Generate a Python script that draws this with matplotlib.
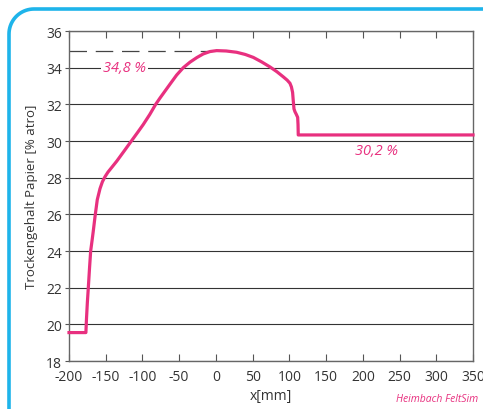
import numpy as np
import matplotlib.pyplot as plt
from matplotlib.path import Path
from matplotlib.patches import PathPatch

# curve data: position x [mm] vs dry content [% atro]
x_mm = [-200, -177, -176.2, -175, -173.7, -172, -170.5, -168.5, -166.9, -164.5, -161.5,
        -157.8, -154.5, -151, -147, -142, -135, -125, -114.7, -106, -98.9, -90, -82,
        -76, -67, -62.5, -53.4, -44.4, -35.3, -26, -17.2, -8, 1, 14, 28.2, 40, 50.9,
        62, 73.6, 83, 91.7, 97, 100.8, 102.8, 104.4, 105.3, 106.3, 107.6, 109.5, 111.3,
        111.8, 112.1, 150, 200, 250, 300, 350]
dry = [19.55, 19.55, 20.3, 21.2, 22.0, 23.1, 24.0, 24.6, 25.1, 25.9, 26.8,
       27.4, 27.78, 28.05, 28.3, 28.55, 28.9, 29.45, 30.02, 30.5, 30.9, 31.45, 32.0,
       32.35, 32.85, 33.1, 33.6, 34.0, 34.3, 34.55, 34.75, 34.88, 34.93, 34.91, 34.84, 34.72, 34.56,
       34.32, 34.04, 33.78, 33.5, 33.32, 33.15, 32.95, 32.65, 32.2, 31.75, 31.6, 31.45, 31.29,
       30.9, 30.33, 30.33, 30.33, 30.33, 30.33, 30.33]

peak_val = 34.93
peak_label = "34,8 %"
end_label = "30,2 %"

pink = "#e8307f"
blue = "#1eb4ea"

plt.rcParams['font.family'] = ['Open Sans', 'DejaVu Sans']
plt.rcParams['axes.unicode_minus'] = False

fig = plt.figure(figsize=(4.83, 4.10), dpi=100)
ax = fig.add_axes([69/483, 48/410, 404/483, 330/410])

# rounded blue frame (top-left corner only visible)
W, H = 483, 410
x0, y0, r = 9, 400, 25
t = np.linspace(np.pi, np.pi/2, 20)
arc_x = (x0 + r) + r*np.cos(t)
arc_y = (y0 - r) + r*np.sin(t)
px = np.concatenate([[x0], arc_x, [W + 10]])
py = np.concatenate([[-10], arc_y, [y0]])
verts = np.column_stack([px / W, py / H])
fig.add_artist(PathPatch(Path(verts), transform=fig.transFigure, fill=False,
                         edgecolor=blue, linewidth=2.6, clip_on=False))

ax.set_xlim(-200, 350)
ax.set_ylim(18, 36)
ax.set_xticks(np.arange(-200, 351, 50))
ax.set_yticks(np.arange(18, 37, 2))
ax.yaxis.grid(True, color="#333333", linewidth=0.8)
ax.set_axisbelow(True)
ax.tick_params(axis='x', direction='in', top=True, length=5, color="#555555",
               labelsize=10, labelcolor="#333333", pad=6)
ax.tick_params(axis='y', direction='out', length=3, color="#555555",
               labelsize=10, labelcolor="#333333", pad=2)
for s in ax.spines.values():
    s.set_color("#666666")
    s.set_linewidth(1)

ax.plot([-200, -5], [peak_val, peak_val], color="#444444", linewidth=0.9,
        dashes=(14, 7), zorder=2)
ax.plot(x_mm, dry, color=pink, linewidth=2.3, zorder=3, clip_on=False,
        solid_joinstyle='round')

ax.text(-124, 34.0, peak_label, color=pink, style='italic', fontsize=10.5,
        ha='center', va='center', zorder=4,
        bbox=dict(facecolor='white', edgecolor='none', pad=1.5))
ax.text(218, 29.5, end_label, color=pink, style='italic', fontsize=10.5,
        ha='center', va='center', zorder=4)

ax.set_xlabel("x[mm]", fontsize=10, color="#333333", labelpad=3)
ax.set_ylabel("Trockengehalt Papier [% atro]", fontsize=9.5, color="#333333", labelpad=6)

fig.text(478/W, 1 - 400/H, "Heimbach FeltSim", color=pink, style='italic',
         fontsize=7.5, ha='right', va='center')

fig.savefig("out.png", dpi=100)
